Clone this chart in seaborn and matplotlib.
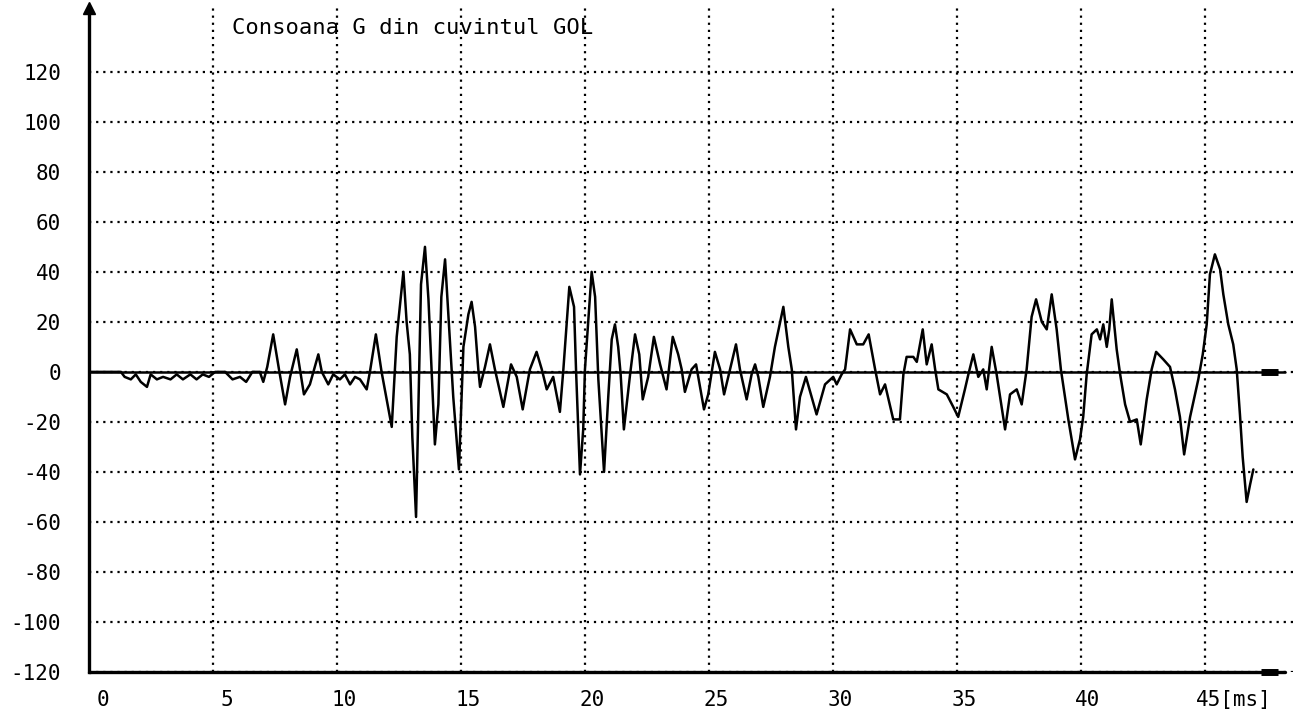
import numpy as np
import pandas as pd
import matplotlib.pyplot as plt
import matplotlib.transforms as mtransforms
import seaborn as sns

# Consoana G din cuvintul GOL - valori citite de pe oscilograma
time_ms = [
    0.0, 0.6, 1.3, 1.45, 1.7, 1.9, 2.1, 2.35, 2.5, 2.75, 3.0, 3.3, 3.55, 3.8,
    4.1, 4.35, 4.6, 4.85, 5.1, 5.5, 5.8, 6.1, 6.35, 6.6, 6.9, 7.04, 7.2, 7.44,
    7.69, 7.92, 8.12, 8.39, 8.68, 8.92, 9.26, 9.40, 9.66, 9.86, 10.13, 10.33,
    10.54, 10.74, 10.94, 11.21, 11.34, 11.58, 11.81, 12.22, 12.42, 12.69, 12.82,
    12.95, 13.05, 13.2, 13.3, 13.4, 13.56, 13.7, 13.83, 13.96, 14.1, 14.22,
    14.37, 14.55, 14.7, 14.93, 15.11, 15.31, 15.44, 15.58, 15.71, 15.78, 15.98,
    16.18, 16.38, 16.72, 17.03, 17.26, 17.50, 17.79, 18.06, 18.27, 18.47, 18.73,
    19.00, 19.14, 19.38, 19.57, 19.65, 19.81, 19.94, 20.01, 20.28, 20.42, 20.55,
    20.78, 20.95, 21.09, 21.22, 21.35, 21.45, 21.58, 21.83, 22.03, 22.20, 22.34,
    22.56, 22.79, 23.04, 23.3, 23.55, 23.77, 23.91, 24.04, 24.31, 24.49, 24.65,
    24.81, 24.98, 25.25, 25.46, 25.62, 25.86, 26.10, 26.26, 26.53, 26.73, 26.87,
    27.00, 27.20, 27.47, 27.67, 27.88, 28.01, 28.21, 28.35, 28.52, 28.68, 28.92,
    29.15, 29.35, 29.69, 30.02, 30.16, 30.36, 30.50, 30.70, 30.97, 31.23, 31.45,
    31.71, 31.91, 32.11, 32.44, 32.71, 32.85, 32.98, 33.25, 33.39, 33.63, 33.79,
    33.99, 34.13, 34.26, 34.60, 34.86, 35.06, 35.33, 35.47, 35.67, 35.87, 36.07,
    36.21, 36.41, 36.61, 36.95, 37.15, 37.42, 37.62, 37.82, 38.02, 38.20, 38.43,
    38.63, 38.83, 39.03, 39.20, 39.50, 39.77, 39.97, 40.10, 40.24, 40.44, 40.65,
    40.78, 40.91, 41.05, 41.15, 41.25, 41.45, 41.59, 41.79, 41.99, 42.26, 42.42,
    42.66, 42.86, 43.04, 43.33, 43.60, 43.80, 44.00, 44.17, 44.41, 44.61, 44.74,
    44.92, 45.08, 45.21, 45.41, 45.62, 45.75, 45.95, 46.15, 46.29, 46.42, 46.53,
    46.69, 46.83, 46.96,
]
amplitude = [
    0, 0, 0, -2, -3, -1, -4, -6, -1, -3, -2, -3, -1, -3,
    -1, -3, -1, -2, 0, 0, -3, -2, -4, 0, 0, -4, 2, 15,
    0, -13, -2, 9, -9, -5, 7, 0, -5, -1, -3, -1,
    -5, -2, -3, -7, 0, 15, 0, -22, 14, 40, 20,
    7, -26, -58, -12, 35, 50, 29, 0, -29, -13, 30,
    45, 15, -10, -39, 10, 23, 28, 18, 1, -6, 2,
    11, 1, -14, 3, -2, -15, 1, 8, 1, -7, -2,
    -16, 1, 34, 26, 1, -41, -23, 1, 40, 30, -3,
    -40, -10, 13, 19, 10, -1, -23, -1, 15, 7, -11,
    -2, 14, 3, -7, 14, 7, 1, -8, 1, 3, -6,
    -15, -9, 8, 1, -9, 1, 11, 1, -11, -1, 3,
    -2, -14, -2, 10, 20, 26, 10, 1, -23, -10, -2,
    -10, -17, -5, -2, -5, -1, 1, 17, 11, 11, 15,
    1, -9, -5, -19, -19, -1, 6, 6, 4, 17, 3,
    11, 1, -7, -9, -14, -18, -7, -1, 7, -2, 1,
    -7, 10, -1, -23, -9, -7, -13, 1, 22, 29, 20,
    17, 31, 17, 1, -19, -35, -27, -18, -1, 15, 17,
    13, 19, 10, 17, 29, 9, -1, -13, -20, -19, -29,
    -11, 1, 8, 5, 2, -7, -18, -33, -18, -9, -3,
    7, 19, 39, 47, 41, 31, 19, 11, 1, -17, -34,
    -52, -45, -39,
]

x_ticks = [0, 5, 10, 15, 20, 25, 30, 35, 40, 45]
x_tick_labels = ['0', '5', '10', '15', '20', '25', '30', '35', '40', '45[ms]']
y_ticks = [-120, -100, -80, -60, -40, -20, 0, 20, 40, 60, 80, 100, 120]
y_tick_labels = [str(v) for v in y_ticks]
title_text = 'Consoana G din cuvintul GOL'

sns.set_style('white')
plt.rcParams['font.family'] = ['DejaVu Sans Mono', 'DejaVu Sans']
plt.rcParams['axes.unicode_minus'] = False

df = pd.DataFrame({'t_ms': time_ms, 'amp': amplitude})

fig = plt.figure(figsize=(13.04, 7.13), dpi=100)
ax = fig.add_axes([0.068, 0.0575, 0.9251, 0.9313])

ax.set_xlim(0, 48.64)
ax.set_ylim(-120, 145.5)

# grila punctata
ax.set_xticks(x_ticks)
ax.set_yticks(y_ticks)
ax.grid(True, color='black', linestyle=(0, (1, 2.2)), linewidth=1.6)
ax.set_axisbelow(True)

# axa zero si axa de jos, continue
blend = mtransforms.blended_transform_factory(ax.transAxes, ax.transData)
ax.axhline(0, xmin=0, xmax=0.9917, color='black', linewidth=1.8, zorder=3)
ax.axhline(-120, xmin=0, xmax=0.9917, color='black', linewidth=2.4, zorder=3, clip_on=False)
for yv in (0, -120):
    ax.plot([0.972, 0.986], [yv, yv], transform=blend, color='black',
            linewidth=5, solid_capstyle='butt', clip_on=False, zorder=4)

sns.lineplot(data=df, x='t_ms', y='amp', ax=ax, color='black', linewidth=1.8,
             sort=False, estimator=None, zorder=5)

for side in ['top', 'right', 'bottom']:
    ax.spines[side].set_visible(False)
ax.spines['left'].set_linewidth(2.4)
ax.spines['left'].set_color('black')

# sageata axei verticale
ax.plot([0], [1], marker='^', markersize=9, color='black',
        transform=ax.transAxes, clip_on=False, zorder=6)

ax.set_xlabel('')
ax.set_ylabel('')
ax.set_yticklabels(y_tick_labels, fontsize=15)
ax.set_xticklabels(x_tick_labels, fontsize=15)
ax.tick_params(axis='y', direction='out', length=17, width=1.6, pad=3, colors='black')
ax.tick_params(axis='x', direction='out', length=7, width=1.6, pad=6, colors='black')

# etichetele x sunt deplasate spre dreapta ca pe original
for lbl in ax.get_xticklabels():
    txt = lbl.get_text()
    if txt.endswith('[ms]'):
        lbl.set_horizontalalignment('left')
        dx = -0.09
    elif len(txt) == 1:
        lbl.set_horizontalalignment('center')
        dx = 0.14
    else:
        lbl.set_horizontalalignment('center')
        dx = 0.07
    lbl.set_transform(lbl.get_transform() + mtransforms.ScaledTranslation(dx, 0, fig.dpi_scale_trans))

ax.text(0.1188, 0.97, title_text, transform=ax.transAxes, ha='left', va='center',
        fontsize=16, color='black')

fig.savefig('out.png', dpi=100, facecolor='white')
plt.close(fig)
